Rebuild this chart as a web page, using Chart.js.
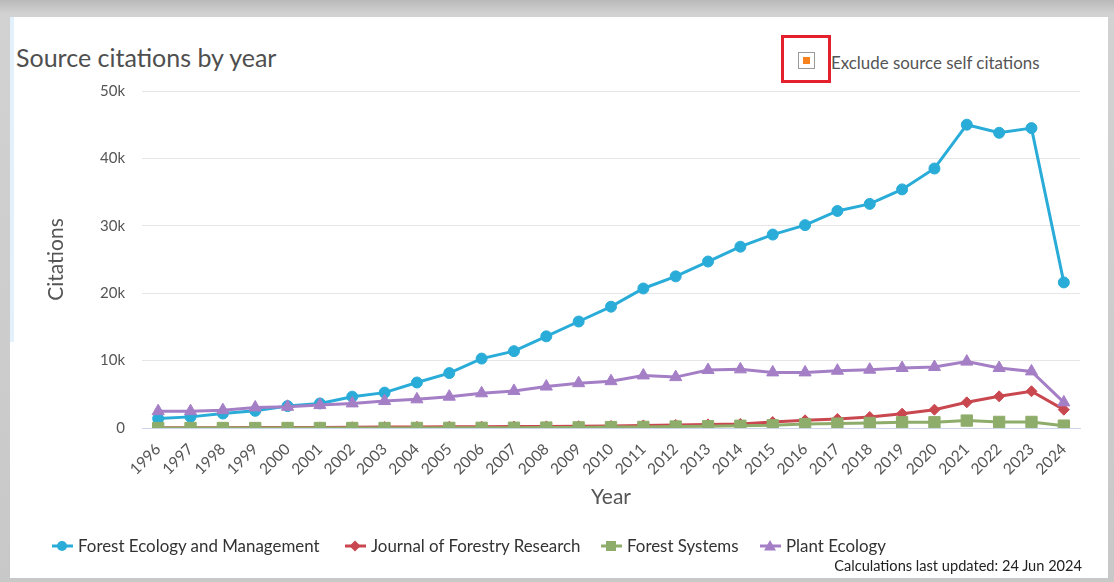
<!DOCTYPE html>
<html>
<head>
<meta charset="utf-8">
<script src="https://cdn.jsdelivr.net/npm/chart.js@4.4.0/dist/chart.umd.min.js"></script>
<style>
  html, body { margin: 0; padding: 0; }
  body { width: 1114px; height: 582px; overflow: hidden; position: relative;
         background: linear-gradient(#b9b9b9 0px, #d2d2d2 14px, #c8c8c8 100%); font-family: Lato, sans-serif; }
  #panel { position: absolute; left: 10px; top: 17px; width: 1098px; height: 561px; background: #fff; }
  #strip { position: absolute; left: 10px; top: 17px; width: 4px; height: 325px; background: #e2f1fb; }
  #wrap { position: absolute; left: 0; top: 0; width: 1114px; height: 582px; }
  #title { position: absolute; left: 16px; top: 42px; font-size: 25px; line-height: 30px; color: #4f4f4f; white-space: nowrap; }
  #redbox { position: absolute; left: 781px; top: 35px; width: 44px; height: 42px; border: 3px solid #e3202b; }
  #chk { position: absolute; left: 798px; top: 52px; width: 15px; height: 15px; border: 1px solid #9a9a9a; background: #fff; }
  #chk i { position: absolute; left: 4px; top: 4px; width: 7px; height: 7px; background: #f7821e; }
  #excl { position: absolute; left: 831px; top: 52px; font-size: 16.9px; line-height: 22px; color: #555; white-space: nowrap; }
  .leg { position: absolute; top: 535px; height: 22px; white-space: nowrap; font-size: 16.9px; line-height: 22px; color: #333; }
  .leg svg { position: absolute; left: 0; top: 1px; }
  .leg span { position: absolute; top: 0; }
  #upd { position: absolute; right: 32px; top: 556px; font-size: 14.6px; line-height: 20px; color: #222; white-space: nowrap; }
</style>
</head>
<body>
<div id="panel"></div>
<div id="strip"></div>
<div id="title">Source citations by year</div>
<div id="redbox"></div>
<div id="chk"><i></i></div>
<div id="excl">Exclude source self citations</div>
<div id="wrap"><canvas id="c"></canvas></div>
<div id="legend"></div>
<div id="upd">Calculations last updated: 24 Jun 2024</div>
<script>
const years = ['1996','1997','1998','1999','2000','2001','2002','2003','2004','2005','2006','2007','2008','2009','2010','2011','2012','2013','2014','2015','2016','2017','2018','2019','2020','2021','2022','2023','2024'];
const forestEcologyManagement = [1400,1650,2150,2550,3250,3650,4650,5250,6750,8150,10300,11400,13600,15800,18000,20700,22500,24700,26900,28700,30100,32200,33250,35400,38500,45000,43800,44500,21600];
const journalForestryResearch = [30,40,50,60,70,90,110,130,150,170,190,210,240,270,300,380,450,530,600,880,1140,1340,1630,2130,2720,3810,4700,5450,2720];
const forestSystems = [0,0,0,0,0,0,0,0,10,20,30,40,60,90,130,160,220,260,330,400,580,650,750,850,850,1100,900,900,350];
const plantEcology = [2500,2500,2650,3050,3150,3400,3650,4000,4250,4650,5150,5500,6150,6650,6950,7800,7550,8600,8700,8250,8250,8500,8650,8900,9050,9850,8900,8400,3800];
const yTicks = [0,10000,20000,30000,40000,50000];
const yTickLabels = ['0','10k','20k','30k','40k','50k'];

const seriesNames = ['Forest Ecology and Management','Journal of Forestry Research','Forest Systems','Plant Ecology'];
const seriesColors = ['#2aacd8','#c9474f','#8fad6a','#a57fc6'];
const seriesStyles = ['circle','rectRot','rect','triangle'];
const seriesRadius = [5.5, 5.5, 8, 7];
const seriesData = [forestEcologyManagement, journalForestryResearch, forestSystems, plantEcology];

const datasets = seriesData.map((d, i) => ({
  label: seriesNames[i],
  data: d,
  borderColor: seriesColors[i],
  backgroundColor: seriesColors[i],
  borderWidth: 3,
  pointStyle: seriesStyles[i],
  pointRadius: seriesRadius[i],
  pointBorderWidth: 1,
  pointBorderColor: seriesColors[i],
  pointBackgroundColor: seriesColors[i],
  tension: 0,
  order: 3 - i
}));

const canvas = document.getElementById('c');
canvas.style.width = '1114px';
canvas.style.height = '582px';

new Chart(canvas, {
  type: 'line',
  data: { labels: years, datasets },
  options: {
    responsive: true,
    maintainAspectRatio: false,
    animation: false,
    layout: { padding: { left: 40, top: 91, right: 34, bottom: 68 } },
    plugins: { legend: { display: false }, tooltip: { enabled: false } },
    scales: {
      x: {
        type: 'category',
        offset: true,
        grid: { display: false, drawTicks: false },
        border: { display: true, color: '#ccd6eb', width: 1 },
        ticks: { autoSkip: false, maxRotation: 45, minRotation: 45, padding: 12, color: '#555', font: { family: 'Lato', size: 15.5 } },
        title: { display: true, text: 'Year', color: '#555', font: { family: 'Lato', size: 21 }, padding: { top: 0, bottom: 4 } },
        afterFit: s => { s.height = 86; }
      },
      y: {
        min: 0, max: 50000,
        afterBuildTicks: s => { s.ticks = yTicks.map(v => ({ value: v })); },
        grid: { color: '#e6e6e6', lineWidth: 1, drawTicks: false },
        border: { display: false },
        ticks: { padding: 17, color: '#555', font: { family: 'Lato', size: 15 },
                 callback: (v) => { const k = yTicks.indexOf(v); return k >= 0 ? yTickLabels[k] : ''; } },
        title: { display: true, text: 'Citations', color: '#555', font: { family: 'Lato', size: 21 }, padding: { top: 4, bottom: 0 } },
        afterFit: s => { s.width = 102; }
      }
    }
  }
});

// HTML legend built from the series
const legendLeft = [52, 345, 601, 760];
const legend = document.getElementById('legend');
function marker(style, color) {
  const cx = 10, cy = 10;
  if (style === 'circle') return `<circle cx="${cx}" cy="${cy}" r="5" fill="${color}"/>`;
  if (style === 'rectRot') return `<polygon points="${cx},${cy-5.5} ${cx+5.5},${cy} ${cx},${cy+5.5} ${cx-5.5},${cy}" fill="${color}"/>`;
  if (style === 'rect') return `<rect x="${cx-5}" y="${cy-5}" width="10" height="10" fill="${color}"/>`;
  return `<polygon points="${cx},${cy-6} ${cx+6},${cy+4.5} ${cx-6},${cy+4.5}" fill="${color}"/>`;
}
seriesNames.forEach((name, i) => {
  const d = document.createElement('div');
  d.className = 'leg';
  d.style.left = legendLeft[i] + 'px';
  d.innerHTML = `<svg width="21" height="20"><line x1="0" y1="10" x2="21" y2="10" stroke="${seriesColors[i]}" stroke-width="3"/>${marker(seriesStyles[i], seriesColors[i])}</svg><span style="left:26px">${name}</span>`;
  legend.appendChild(d);
});
</script>
</body>
</html>
